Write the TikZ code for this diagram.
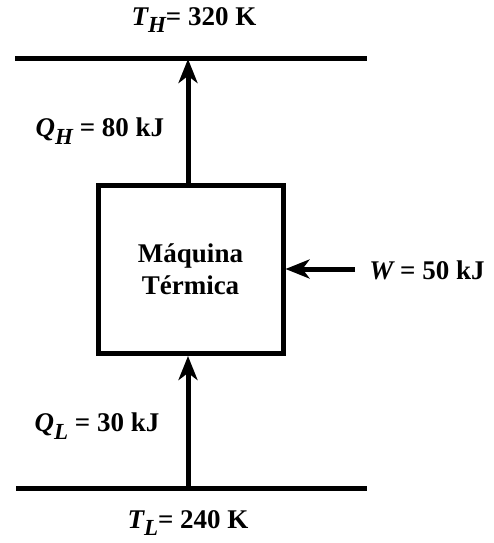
\documentclass[tikz,border=0pt]{standalone}
\usepackage{fontspec}
\setmainfont{Liberation Serif}
\usetikzlibrary{arrows.meta}
\tikzset{
  res/.style={line width=5pt},
  flow/.style={line width=5pt,-{Stealth[length=24pt,width=19pt,inset=7pt]}},
  lbl/.style={font=\bfseries\fontsize{27}{32}\selectfont,inner sep=0pt},
}
\newcommand{\qsym}[2]{{\itshape #1}\raisebox{-0.6ex}{\itshape\fontsize{23}{26}\selectfont #2}}
\begin{document}
\begin{tikzpicture}[x=1pt,y=-1pt]
\useasboundingbox (0,0) rectangle (493,543);
% reservoirs
\coordinate (th1) at (15,59);
\coordinate (th2) at (367,59);
\coordinate (tl1) at (16,488);
\coordinate (tl2) at (367,488);
\draw[res] (th1) -- (th2);
\draw[res] (tl1) -- (tl2);
% engine box
\node[draw,line width=5pt,minimum width=185pt,minimum height=168pt,inner sep=0pt,lbl,align=center] (eng) at (190.5,269.5) {Máquina\\Térmica};
\coordinate (topin) at (188,59);
\coordinate (botout) at (188,488);
\coordinate (win) at (355,269);
\draw[flow] (eng.north -| topin) -- (topin);
\draw[flow] (botout) -- (eng.south -| botout);
\draw[flow] (win) -- (eng.east |- win);
% labels
\node[lbl] (th) at (194,20) {\qsym{T}{H}= 320 K};
\node[lbl] (qh) at (100,131) {\qsym{Q}{H} = 80 kJ};
\node[lbl] (w) at (427,270) {{\itshape W} = 50 kJ};
\node[lbl] (ql) at (97,426) {\qsym{Q}{L} = 30 kJ};
\node[lbl] (tl) at (188,523) {\qsym{T}{L}= 240 K};
\end{tikzpicture}
\end{document}
